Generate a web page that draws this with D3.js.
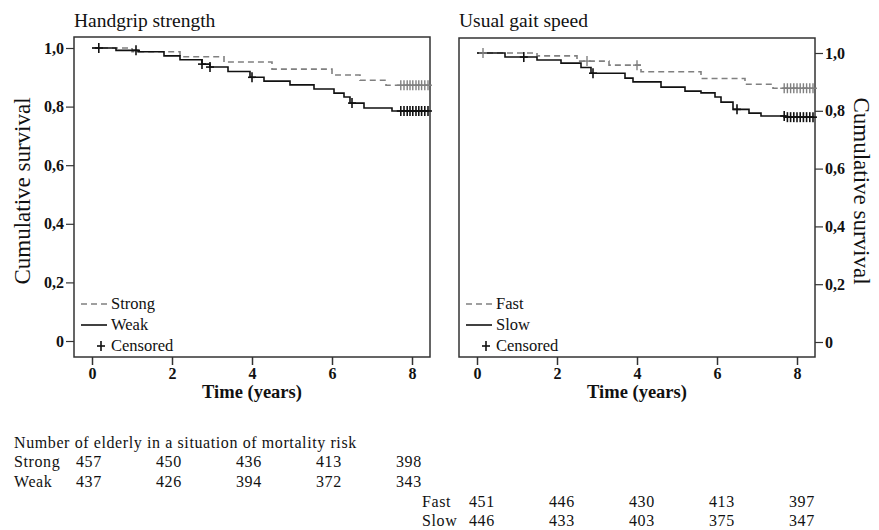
<!DOCTYPE html>
<meta charset="utf-8">
<style>
body { margin: 0; background: #fff; }
svg text { font-family: "Liberation Serif", "Times New Roman", serif; fill: #111; }
.tick text { font-weight: bold; font-size: 16px; }
.box { fill: none; stroke: #333; stroke-width: 1.5px; }
.strong { fill: none; stroke: #808080; stroke-width: 1.6px; stroke-dasharray: 6,4; }
.weak { fill: none; stroke: #111; stroke-width: 1.6px; }
.cens-strong { stroke: #808080; stroke-width: 1.4px; }
.cens-weak { stroke: #111; stroke-width: 1.6px; }
</style>
<svg width="879" height="530"></svg>
<script src="https://cdn.jsdelivr.net/npm/d3@7"></script>
<script>

// handgrip panel
var hgStrongT = [0, 1.0, 2.2, 3.3, 4.5, 6.0, 6.7, 7.35, 8.4]
var hgStrongS = [1.0, 0.987, 0.97, 0.952, 0.928, 0.908, 0.89, 0.873, 0.873]
var hgWeakT = [0, 0.6, 1.15, 1.8, 2.2, 2.75, 2.95, 3.4, 3.95, 4.3, 4.95, 5.55, 6.05, 6.3, 6.45, 6.8, 7.5, 8.4]
var hgWeakS = [1.0, 0.992, 0.987, 0.973, 0.96, 0.945, 0.935, 0.92, 0.9, 0.887, 0.874, 0.86, 0.846, 0.833, 0.812, 0.795, 0.785, 0.785]
var hgStrongCens = [7.72, 7.8, 7.88, 7.95, 8.02, 8.1, 8.17, 8.24, 8.32, 8.4]
var hgWeakCens = [0.17, 1.1, 2.75, 2.95, 4.0, 6.5, 7.72, 7.8, 7.88, 7.95, 8.02, 8.1, 8.17, 8.24, 8.32, 8.4]

// gait speed panel
var gsFastT = [0, 1.5, 2.5, 3.3, 4.1, 5.6, 6.7, 7.4, 8.4]
var gsFastS = [1.0, 0.99, 0.972, 0.958, 0.935, 0.912, 0.892, 0.878, 0.878]
var gsSlowT = [0, 0.7, 1.5, 2.1, 2.6, 2.85, 3.7, 3.9, 4.6, 5.2, 5.6, 5.95, 6.1, 6.4, 6.8, 7.1, 7.7, 8.4]
var gsSlowS = [1.0, 0.986, 0.976, 0.965, 0.95, 0.93, 0.913, 0.9, 0.882, 0.868, 0.862, 0.848, 0.83, 0.805, 0.792, 0.782, 0.778, 0.778]
var gsFastCens = [0.15, 2.75, 4.0, 7.68, 7.76, 7.84, 7.92, 8.0, 8.08, 8.16, 8.24, 8.32, 8.4]
var gsSlowCens = [1.17, 2.9, 6.5, 7.68, 7.76, 7.84, 7.92, 8.0, 8.08, 8.16, 8.24, 8.32, 8.4]

var xTicks = [0, 2, 4, 6, 8]
var yTicks = [0, 0.2, 0.4, 0.6, 0.8, 1.0]

// numbers at risk
var riskTitle = "Number of elderly in a situation of mortality risk"
var strongRisk = [457, 450, 436, 413, 398]
var weakRisk = [437, 426, 394, 372, 343]
var fastRisk = [451, 446, 430, 413, 397]
var slowRisk = [446, 433, 403, 375, 347]

var svg = d3.select("svg")
var fmt = function(d) { return d == 0 ? "0" : d3.format(".1f")(d).replace(".", ","); }

function panel(opt) {
  var x = d3.scaleLinear().domain([-0.45, 8.45]).range([opt.left, opt.right])
  var y = d3.scaleLinear().domain([0, 1]).range([opt.y0, opt.y1])
  var g = svg.append("g")

  g.append("rect").attr("class", "box")
    .attr("x", opt.left).attr("y", opt.top)
    .attr("width", opt.right - opt.left).attr("height", opt.bottom - opt.top)

  var xa = g.append("g").attr("transform", "translate(0," + opt.bottom + ")")
    .call(d3.axisBottom(x).tickValues(xTicks).tickSize(8).tickPadding(3).tickFormat(d3.format("d")))
  xa.select(".domain").remove()
  xa.selectAll("line").attr("stroke", "#333").attr("stroke-width", 1.5)

  var ya
  if (opt.side == "left") {
    ya = g.append("g").attr("transform", "translate(" + opt.left + ",0)")
      .call(d3.axisLeft(y).tickValues(yTicks).tickSize(8).tickPadding(2).tickFormat(fmt))
  } else {
    ya = g.append("g").attr("transform", "translate(" + opt.right + ",0)")
      .call(d3.axisRight(y).tickValues(yTicks).tickSize(8).tickPadding(2).tickFormat(fmt))
  }
  ya.select(".domain").remove()
  ya.selectAll("line").attr("stroke", "#333").attr("stroke-width", 1.2)

  g.append("text").attr("x", opt.left).attr("y", 27)
    .style("font-size", "19.5px").text(opt.title)

  g.append("text").attr("x", (x(0) + x(8)) / 2).attr("y", 398)
    .attr("text-anchor", "middle").style("font-size", "18.5px").style("font-weight", "bold")
    .text("Time (years)")

  var line = d3.line().curve(d3.curveStepAfter)
    .x(function(d) { return x(d[0]); }).y(function(d) { return y(d[1]); })

  g.append("path").attr("class", "strong").attr("d", line(d3.zip(opt.aT, opt.aS)))
  g.append("path").attr("class", "weak").attr("d", line(d3.zip(opt.bT, opt.bS)))

  function survAt(T, S, t) {
    var i = d3.bisectRight(T, t) - 1
    return S[Math.max(0, i)]
  }
  function plus(sel, cls) {
    sel.append("line").attr("class", cls).attr("x1", -4).attr("x2", 4).attr("y1", 0).attr("y2", 0)
    sel.append("line").attr("class", cls).attr("x1", 0).attr("x2", 0).attr("y1", -5).attr("y2", 5)
  }
  g.selectAll(".ca").data(opt.aC).enter().append("g")
    .attr("transform", function(d) { return "translate(" + x(d) + "," + y(survAt(opt.aT, opt.aS, d)) + ")"; })
    .call(plus, "cens-strong")
  g.selectAll(".cb").data(opt.bC).enter().append("g")
    .attr("transform", function(d) { return "translate(" + x(d) + "," + y(survAt(opt.bT, opt.bS, d)) + ")"; })
    .call(plus, "cens-weak")

  // legend
  var lx = opt.left + 7
  g.append("line").attr("class", "strong").attr("x1", lx).attr("x2", lx + 26).attr("y1", 304).attr("y2", 304)
  g.append("line").attr("class", "weak").attr("stroke-width", 2).attr("x1", lx).attr("x2", lx + 26).attr("y1", 325).attr("y2", 325)
  plus(g.append("g").attr("transform", "translate(" + (lx + 20) + ",346)"), "cens-weak")
  var names = [opt.aName, opt.bName, "Censored"]
  g.selectAll(".lt").data(names).enter().append("text")
    .attr("x", lx + 30).attr("y", function(d, i) { return 309 + i * 21; })
    .style("font-size", "16.5px").text(function(d) { return d; })

  // side title
  var ax = opt.side == "left" ? 22 : 862
  g.append("text")
    .attr("transform", "translate(" + ax + ",191) rotate(" + (opt.side == "left" ? -90 : 90) + ")")
    .attr("text-anchor", "middle").attr("dy", "0.35em")
    .style("font-size", "23px").text("Cumulative survival")

  return x
}

var xl = panel({ left: 74, right: 430, top: 37, bottom: 357, y0: 341, y1: 48, side: "left",
  title: "Handgrip strength", aName: "Strong", bName: "Weak",
  aT: hgStrongT, aS: hgStrongS, bT: hgWeakT, bS: hgWeakS, aC: hgStrongCens, bC: hgWeakCens })

var xr = panel({ left: 459, right: 815, top: 38, bottom: 357, y0: 342, y1: 53, side: "right",
  title: "Usual gait speed", aName: "Fast", bName: "Slow",
  aT: gsFastT, aS: gsFastS, bT: gsSlowT, bS: gsSlowS, aC: gsFastCens, bC: gsSlowCens })

// risk table
var tbl = svg.append("g").style("font-size", "16px").style("letter-spacing", "0.6px")
tbl.append("text").attr("x", 14).attr("y", 448).text(riskTitle)

function riskRow(label, lx, vals, xs, yy, off) {
  tbl.append("text").attr("x", lx).attr("y", yy).text(label)
  tbl.selectAll(null).data(vals).enter().append("text")
    .attr("x", function(d, i) { return xs(xTicks[i]) + off; })
    .attr("y", yy).text(function(d) { return d; })
}
riskRow("Strong", 14, strongRisk, xl, 467, -16)
riskRow("Weak", 14, weakRisk, xl, 487, -16)
riskRow("Fast", 422, fastRisk, xr, 507, -8)
riskRow("Slow", 422, slowRisk, xr, 526, -8)

</script>
